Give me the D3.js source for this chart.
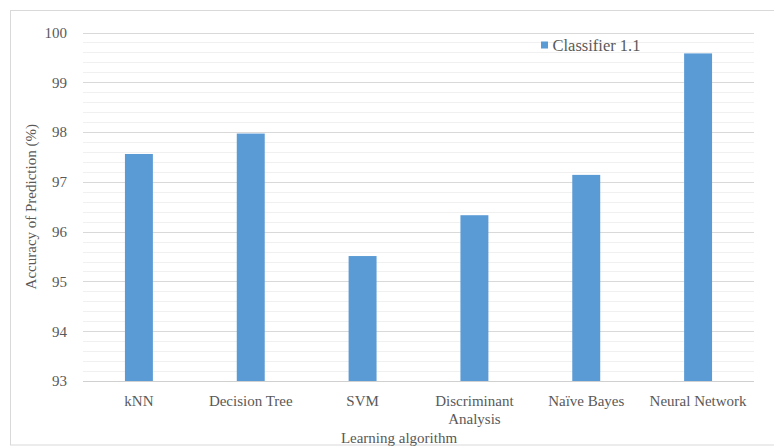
<!DOCTYPE html>
<html>
<head>
<meta charset="utf-8">
<script src="https://cdn.jsdelivr.net/npm/d3@7"></script>
<style>
  html, body { margin: 0; padding: 0; background: #fff; }
  svg { display: block; }
</style>
</head>
<body>
<svg id="chart" width="774" height="446"></svg>
<script>
const categories = ["kNN", "Decision Tree", "SVM", "Discriminant Analysis", "Naïve Bayes", "Neural Network"];
const values = [97.56, 97.97, 95.51, 96.33, 97.14, 99.58];
const yTicks = [93, 94, 95, 96, 97, 98, 99, 100];
const seriesName = "Classifier 1.1";
const xTitle = "Learning algorithm";
const yTitle = "Accuracy of Prediction (%)";

const FONT = "Liberation Serif";
const TXT = "#595959";

const svg = d3.select("#chart");
const m = { left: 83, right: 754, top: 32.5, bottom: 381 };

// outer frame
svg.append("rect").attr("x", 10.5).attr("y", 10.5).attr("width", 800).attr("height", 434.5)
  .attr("fill", "none").attr("stroke", "#d9d9d9").attr("stroke-width", 1);

const x = d3.scaleBand().domain(categories).range([m.left, m.right])
  .paddingInner(0.75).paddingOuter(0.375);
const y = d3.scaleLinear().domain([93, 100]).range([m.bottom, m.top]);

// minor gridlines
const minor = d3.range(93, 100.0001, 0.2).filter(v => Math.abs(v - Math.round(v)) > 1e-6);
svg.append("g").selectAll("line").data(minor).join("line")
  .attr("x1", m.left).attr("x2", m.right)
  .attr("y1", d => Math.round(y(d)) + 0.5).attr("y2", d => Math.round(y(d)) + 0.5)
  .attr("stroke", "#f0f0f0").attr("stroke-width", 1);

// major gridlines
svg.append("g").selectAll("line").data(yTicks).join("line")
  .attr("x1", m.left).attr("x2", m.right)
  .attr("y1", d => Math.round(y(d)) + 0.5).attr("y2", d => Math.round(y(d)) + 0.5)
  .attr("stroke", d => d === 93 ? "#d0d0d0" : "#d9d9d9").attr("stroke-width", 1);

// y axis labels
const yAxis = d3.axisLeft(y).tickValues(yTicks).tickFormat(d3.format("d")).tickSize(0).tickPadding(0);
const gy = svg.append("g").attr("transform", `translate(67,0)`).call(yAxis);
gy.select(".domain").remove();
gy.selectAll("text").attr("fill", TXT)
  .style("font-family", FONT).style("font-size", "15px");

// bars
svg.append("g").selectAll("rect").data(values).join("rect")
  .attr("x", (d, i) => x(categories[i]))
  .attr("width", x.bandwidth())
  .attr("y", d => y(d))
  .attr("height", d => y(93) - y(d))
  .attr("fill", "#5b9bd5");

// x axis labels
const xAxis = d3.axisBottom(x).tickSize(0).tickPadding(0);
const gx = svg.append("g").attr("transform", `translate(0,${m.bottom})`).call(xAxis);
gx.select(".domain").remove();
gx.selectAll("text").attr("fill", TXT)
  .style("font-family", FONT).style("font-size", "15px")
  .attr("y", 25).attr("dy", 0)
  .each(function(d) {
    const t = d3.select(this);
    const words = d.split(" ");
    const maxW = x.step() - 4;
    if (this.getComputedTextLength() > maxW && words.length > 1) {
      t.text(null);
      words.forEach((w, i) => {
        t.append("tspan").attr("x", 0).attr("y", 25 + i * 18).text(w);
      });
    }
  });

// x title
svg.append("text").attr("x", 399).attr("y", 443).attr("text-anchor", "middle")
  .style("font-family", FONT).style("font-size", "15px").attr("fill", TXT).text(xTitle);

// y title
svg.append("text").attr("transform", `translate(36,${(m.top + m.bottom) / 2}) rotate(-90)`)
  .attr("text-anchor", "middle").style("font-family", FONT).style("font-size", "15px")
  .attr("fill", TXT).text(yTitle);

// legend
const lg = svg.append("g").attr("transform", "translate(541,41.5)");
lg.append("rect").attr("width", 7).attr("height", 7).attr("fill", "#5b9bd5");
lg.append("text").attr("x", 11.5).attr("y", 9).style("font-family", FONT).style("font-size", "16.5px")
  .attr("fill", TXT).text(seriesName);
</script>
</body>
</html>
